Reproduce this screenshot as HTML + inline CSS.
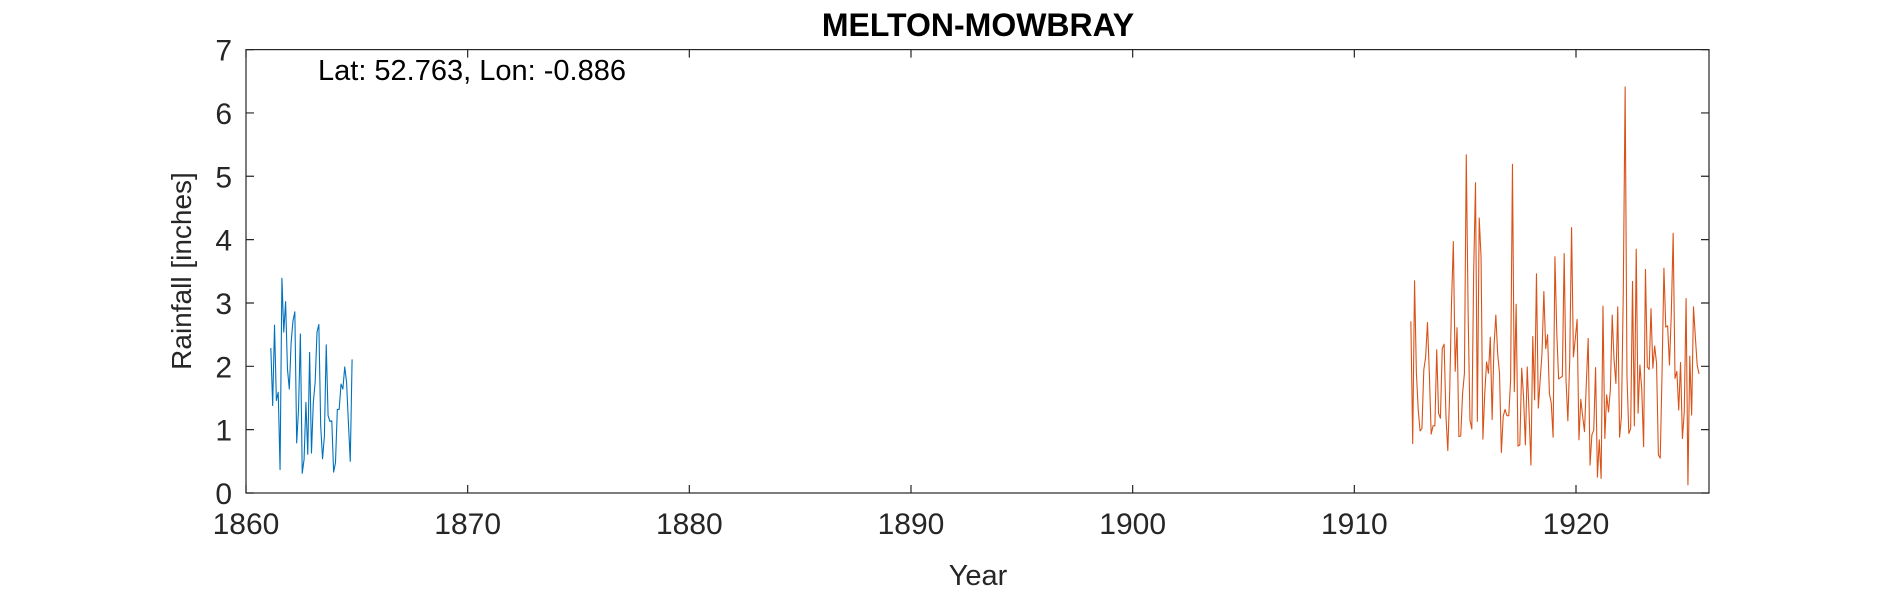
<!DOCTYPE html>
<html><head><meta charset="utf-8"><style>
body{margin:0;background:#fff;}
svg{display:block;font-family:"Liberation Sans",Arial,sans-serif;}
</style></head><body>
<svg id="chart" width="1890" height="591" viewBox="0 0 1890 591">
<rect width="1890" height="591" fill="#fff"/>
<text x="978" y="36" font-size="32" font-weight="bold" text-anchor="middle" fill="#000">MELTON-MOWBRAY</text>
<text x="318" y="80" font-size="29" fill="#000">Lat: 52.763, Lon: -0.886</text>
<g id="axes"></g>
<g id="series"></g>
<text x="978" y="585" font-size="29" text-anchor="middle" fill="#262626">Year</text>
<text transform="translate(191,271) rotate(-90)" font-size="28" text-anchor="middle" fill="#262626">Rainfall [inches]</text>
</svg>
<script>
const xTicks=[1860,1870,1880,1890,1900,1910,1920];
const yTicks=[0,1,2,3,4,5,6,7];
const blueStart=1861.12;
const blueValues=[2.29,1.38,2.65,1.46,1.59,0.37,3.39,2.54,3.02,1.96,1.64,2.38,2.72,2.86,0.79,1.32,2.51,0.31,0.53,1.43,0.61,2.22,0.63,1.43,1.75,2.54,2.66,1.06,0.54,0.90,2.34,1.22,1.13,1.14,0.33,0.48,1.32,1.32,1.72,1.64,1.99,1.75,1.11,0.50,2.11];
const orangeStart=1912.55;
const orangeValues=[2.71,0.78,3.35,1.89,1.31,0.98,1.02,1.94,2.15,2.69,1.89,0.93,1.06,1.06,2.26,1.26,1.18,2.28,2.35,1.21,0.67,1.57,2.99,3.97,1.92,2.61,0.89,0.90,1.57,1.89,5.34,2.84,1.15,1.01,3.47,4.9,1.13,4.34,3.73,0.85,1.57,2.07,1.89,2.46,1.16,2.31,2.81,2.2,1.89,0.64,1.21,
1.32,1.22,1.22,1.78,5.19,1.6,2.98,0.74,0.76,1.97,1.52,0.76,1.99,1.26,0.44,2.47,1.47,3.46,1.34,1.78,2.21,3.18,2.28,2.5,1.57,1.42,0.88,3.73,2.52,1.8,1.82,1.84,3.78,1.78,1.14,2.1,4.19,2.15,2.43,2.74,0.84,1.48,1.21,0.97,1.74,2.44,0.44,0.92,0.99,1.98,0.25,0.84,
0.23,2.95,0.86,1.55,1.28,1.63,2.81,2.1,1.73,2.94,0.88,1.21,3.18,6.41,1.84,0.94,1.02,3.34,1.06,3.85,1.26,2.02,1.63,0.73,3.53,1.99,1.95,2.91,1.97,2.32,2.05,0.6,0.55,1.92,3.55,2.62,2.64,2.02,2.84,4.1,1.81,1.92,1.31,2.06,0.86,1.28,3.07,0.13,2.16,1.23,2.94,2.47,2.02,1.88];
const monthStep=1/12;
const L=246,R=1709,T=49.6,B=493,X0=1860,X1=1926,Y0=0,Y1=7;
const sx=v=>L+(v-X0)/(X1-X0)*(R-L);
const sy=v=>B-(v-Y0)/(Y1-Y0)*(B-T);
const NS="http://www.w3.org/2000/svg";
function mk(t,a,p){const e=document.createElementNS(NS,t);for(const k in a)e.setAttribute(k,a[k]);p.appendChild(e);return e;}
const ax=document.getElementById('axes');
const frame=mk('rect',{x:L,y:T,width:R-L,height:B-T,fill:'none',stroke:'#262626','stroke-width':1.2},ax);


xTicks.forEach(t=>{
 const x=sx(t);
 const tk=mk('path',{d:`M${x},${B}v-8M${x},${T}v8`,stroke:'#262626','stroke-width':1.2},ax);
 
 
 const lb=mk('text',{x:x,y:B+41,'font-size':30,'text-anchor':'middle',fill:'#262626'},ax);
 lb.textContent=t;
 
 
});
yTicks.forEach(t=>{
 const y=sy(t);
 const tk=mk('path',{d:`M${L},${y}h8M${R},${y}h-8`,stroke:'#262626','stroke-width':1.2},ax);
 
 
 const lb=mk('text',{x:L-14,y:y+11,'font-size':30,'text-anchor':'end',fill:'#262626'},ax);
 lb.textContent=t;
 
 
});
const sg=document.getElementById('series');
function line(start,vals,color,name){
 const d=vals.map((v,i)=>(i?'L':'M')+sx(start+i*monthStep).toFixed(2)+','+sy(v).toFixed(2)).join('');
 const p=mk('path',{d:d,fill:'none',stroke:color,'stroke-width':1.1,'stroke-linejoin':'round'},sg);
 
 
}
line(blueStart,blueValues,'#0072BD','series-1861-1864');
line(orangeStart,orangeValues,'#D95319','series-1912-1925');
</script>
</body></html>
